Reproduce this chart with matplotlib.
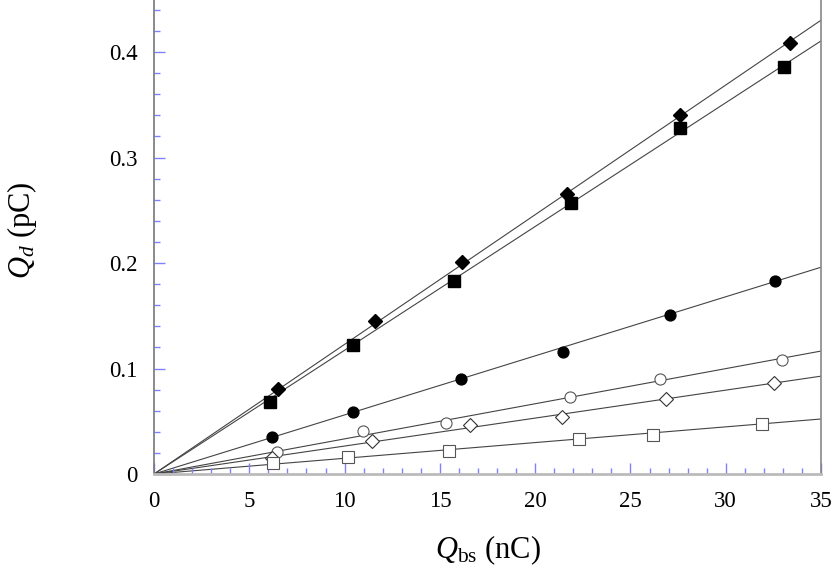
import numpy as np
import matplotlib
matplotlib.use("Agg")
import matplotlib.pyplot as plt
from matplotlib.ticker import MultipleLocator, FuncFormatter

plt.rcParams['font.family'] = ['Liberation Serif', 'DejaVu Serif']
plt.rcParams['mathtext.fontset'] = 'custom'
plt.rcParams['mathtext.rm'] = 'Liberation Serif'
plt.rcParams['mathtext.it'] = 'Liberation Serif:italic'

# values (Q_bs in nC, Q_d in pC)
x_fd = [6.51, 11.60, 16.16, 21.67, 27.60, 33.37]
y_fd = [0.081, 0.145, 0.201, 0.265, 0.340, 0.409]
x_fs = [6.09, 10.44, 15.74, 21.86, 27.60, 33.06]
y_fs = [0.068, 0.122, 0.183, 0.257, 0.328, 0.386]
x_fc = [6.19, 10.44, 16.11, 21.46, 27.08, 32.60]
y_fc = [0.035, 0.059, 0.090, 0.116, 0.151, 0.183]
x_oc = [6.45, 10.97, 15.32, 21.83, 26.55, 32.95]
y_oc = [0.021, 0.041, 0.048, 0.073, 0.090, 0.108]
x_od = [6.19, 11.44, 16.58, 21.41, 26.87, 32.53]
y_od = [0.015, 0.031, 0.046, 0.054, 0.071, 0.086]
x_os = [6.24, 10.18, 15.48, 22.30, 26.18, 31.90]
y_os = [0.0104, 0.016, 0.022, 0.033, 0.037, 0.047]

# slopes of the fitted lines through the origin (pC / nC)
slopes = [0.01229, 0.01173, 0.0056, 0.00333, 0.00265, 0.00149]

fig = plt.figure(figsize=(8.31, 5.67), dpi=100)
ax = fig.add_axes([0.1853, 0.164, 0.8027, 0.836])

xx = np.array([0, 35])
for s in slopes:
    ax.plot(xx, s * xx, color='#444444', lw=0.8, zorder=1)

ax.plot(x_fd, y_fd, 'D', ms=7.6, color='black', zorder=3)
ax.plot(x_fs, y_fs, 's', ms=8.0, color='black', zorder=3)
ax.plot(x_fc, y_fc, 'o', ms=7.8, color='black', zorder=3)
ax.plot(x_oc, y_oc, 'o', ms=8.0, mfc='white', mec='#555555', mew=0.8, zorder=3)
ax.plot(x_od, y_od, 'D', ms=7.2, mfc='white', mec='#333333', mew=0.8, zorder=3)
ax.plot(x_os, y_os, 's', ms=8.0, mfc='white', mec='#555555', mew=0.8, zorder=3)

ax.set_xlim(0, 35)
ax.set_ylim(0, 0.4493)

ax.spines['top'].set_visible(False)
ax.spines['left'].set_color('#777777')
ax.spines['right'].set_color('#888888')
ax.spines['bottom'].set_color('#bbbbbb')
ax.spines['bottom'].set_linewidth(2)
for sp in ['left', 'right']:
    ax.spines[sp].set_linewidth(1.2)

ax.xaxis.set_major_locator(MultipleLocator(5))
ax.xaxis.set_minor_locator(MultipleLocator(1))
ax.yaxis.set_major_locator(MultipleLocator(0.1))
ax.yaxis.set_minor_locator(MultipleLocator(0.02))
ax.yaxis.set_major_formatter(FuncFormatter(lambda v, p: '0' if abs(v) < 1e-9 else '%.1f' % v))

ax.tick_params(which='both', direction='in', color='#8080ff', width=1,
               top=False, right=False, labelsize=16.5)
ax.tick_params(which='major', length=8, pad=12)
ax.tick_params(which='minor', length=4)

ax.set_xlabel(r'$Q_{\rm bs}$ (nC)', fontsize=22)
ax.xaxis.set_label_coords(0.5, -0.125)
ax.set_ylabel(r'$Q_d$ (pC)', fontsize=22)
ax.yaxis.set_label_coords(-0.172, 0.515)

fig.savefig('out.png', dpi=100)
